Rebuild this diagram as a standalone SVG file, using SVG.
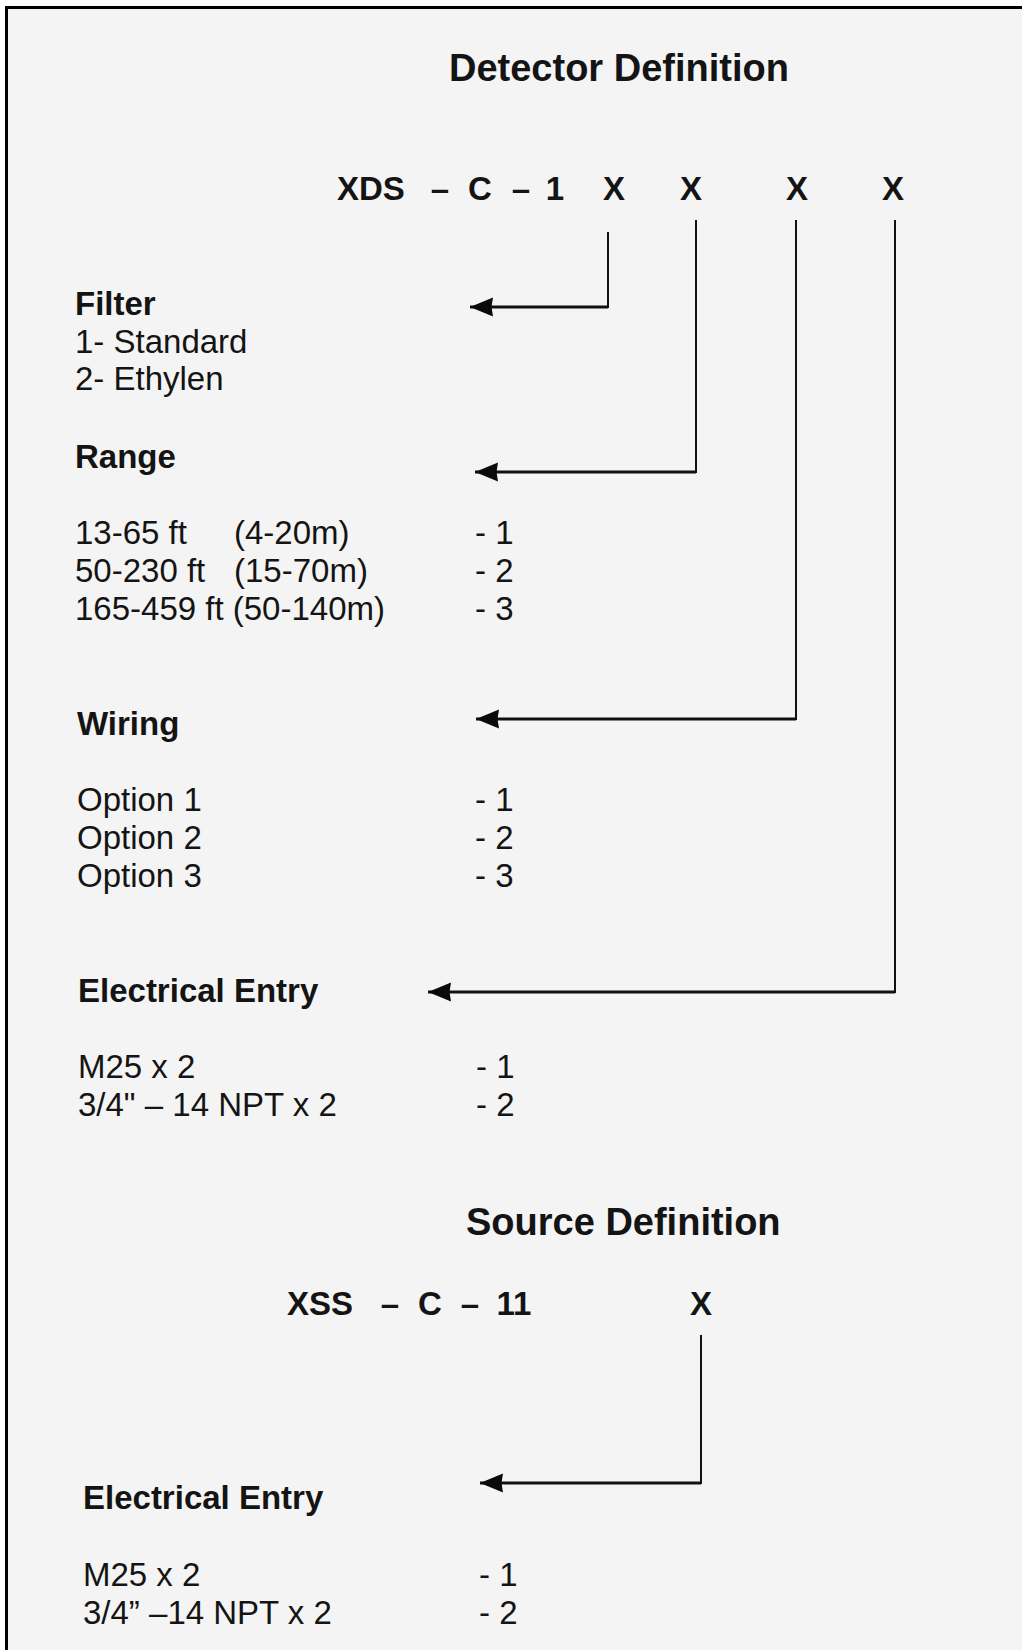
<svg xmlns="http://www.w3.org/2000/svg" width="1022" height="1650" viewBox="0 0 1022 1650">
  <style>
    text { font-family: "Liberation Sans", Arial, sans-serif; fill: #141414; }
    .h { font-size: 38px; font-weight: bold; }
    .code { font-size: 33px; font-weight: bold; }
    .b { font-size: 33px; font-weight: bold; }
    .r { font-size: 33px; }
    .mid { text-anchor: middle; }
    .v { stroke: #111; stroke-width: 2; fill: none; }
    .hz { stroke: #111; stroke-width: 3; fill: none; marker-end: url(#arrow); }
  </style>
  <defs>
    <marker id="arrow" markerUnits="userSpaceOnUse" markerWidth="24" markerHeight="22" viewBox="0 0 24 22" refX="23" refY="11" orient="auto">
      <path d="M0,1.5 L23,11 L0,20.5 L1.5,11 Z" fill="#0a0a0a"/>
    </marker>
  </defs>

  <rect x="0" y="0" width="1022" height="1650" fill="#ffffff"/>
  <rect x="8" y="9" width="1014" height="1641" fill="#f4f4f4"/>
  <g id="frame">
    <path d="M6.5,1650 V7.5 H1022" stroke="#000" stroke-width="3" fill="none"/>
  </g>

  <g id="detector-title">
    <text class="h" x="449" y="80.5">Detector Definition</text>
  </g>

  <g id="detector-code">
    <text class="code" x="337" y="200">XDS</text>
    <text class="code mid" x="440" y="200">–</text>
    <text class="code mid" x="480" y="200">C</text>
    <text class="code mid" x="521" y="200">–</text>
    <text class="code mid" x="555" y="200">1</text>
    <text class="code mid" x="614" y="200">X</text>
    <text class="code mid" x="691" y="200">X</text>
    <text class="code mid" x="797" y="200">X</text>
    <text class="code mid" x="893" y="200">X</text>
  </g>

  <g id="filter">
    <text class="b" x="75" y="315">Filter</text>
    <text class="r" x="75" y="353">1- Standard</text>
    <text class="r" x="75" y="390">2- Ethylen</text>
  </g>

  <g id="range">
    <text class="b" x="75" y="468">Range</text>
    <text class="r" x="75" y="544">13-65 ft</text>
    <text class="r" x="234" y="544">(4-20m)</text>
    <text class="r" x="475" y="544">- 1</text>
    <text class="r" x="75" y="582">50-230 ft</text>
    <text class="r" x="234" y="582">(15-70m)</text>
    <text class="r" x="475" y="582">- 2</text>
    <text class="r" x="75" y="620">165-459 ft (50-140m)</text>
    <text class="r" x="475" y="620">- 3</text>
  </g>

  <g id="wiring">
    <text class="b" x="77" y="735">Wiring</text>
    <text class="r" x="77" y="811">Option 1</text>
    <text class="r" x="475" y="811">- 1</text>
    <text class="r" x="77" y="849">Option 2</text>
    <text class="r" x="475" y="849">- 2</text>
    <text class="r" x="77" y="887">Option 3</text>
    <text class="r" x="475" y="887">- 3</text>
  </g>

  <g id="detector-electrical-entry">
    <text class="b" x="78" y="1002">Electrical Entry</text>
    <text class="r" x="78" y="1078">M25 x 2</text>
    <text class="r" x="476" y="1078">- 1</text>
    <text class="r" x="78" y="1116">3/4" – 14 NPT x 2</text>
    <text class="r" x="476" y="1116">- 2</text>
  </g>

  <g id="source-title">
    <text class="h" x="466" y="1235">Source Definition</text>
  </g>

  <g id="source-code">
    <text class="code" x="287" y="1315">XSS</text>
    <text class="code mid" x="390" y="1315">–</text>
    <text class="code mid" x="430" y="1315">C</text>
    <text class="code mid" x="470" y="1315">–</text>
    <text class="code mid" x="514" y="1315">11</text>
    <text class="code mid" x="701" y="1315">X</text>
  </g>

  <g id="source-electrical-entry">
    <text class="b" x="83" y="1509">Electrical Entry</text>
    <text class="r" x="83" y="1586">M25 x 2</text>
    <text class="r" x="479" y="1586">- 1</text>
    <text class="r" x="83" y="1624">3/4” –14 NPT x 2</text>
    <text class="r" x="479" y="1624">- 2</text>
  </g>

  <g id="connectors">
    <line class="v" x1="608" y1="232" x2="608" y2="308"/>
    <line class="hz" x1="608" y1="307" x2="470" y2="307"/>
    <line class="v" x1="696" y1="220" x2="696" y2="473"/>
    <line class="hz" x1="696" y1="472" x2="475" y2="472"/>
    <line class="v" x1="796" y1="220" x2="796" y2="720"/>
    <line class="hz" x1="796" y1="719" x2="476" y2="719"/>
    <line class="v" x1="895" y1="220" x2="895" y2="993"/>
    <line class="hz" x1="895" y1="992" x2="428" y2="992"/>
    <line class="v" x1="701" y1="1335" x2="701" y2="1484"/>
    <line class="hz" x1="701" y1="1483" x2="480" y2="1483"/>
  </g>
</svg>
